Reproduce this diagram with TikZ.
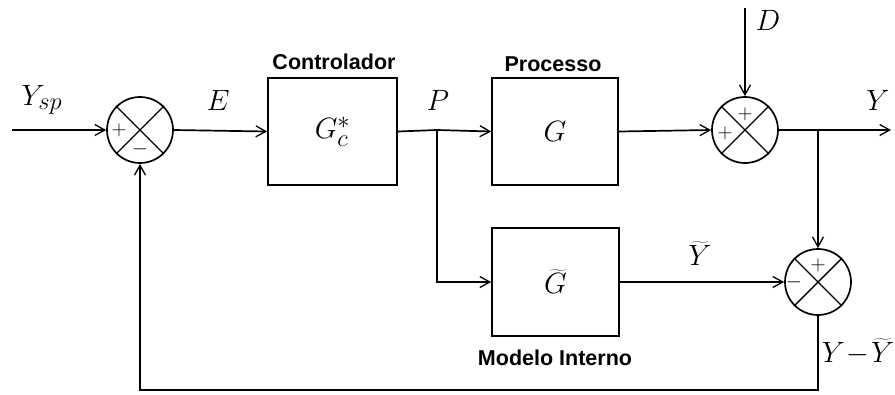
\documentclass[tikz,border=0pt]{standalone}
\usepackage{fontspec}
\newfontfamily\lblfont{Liberation Sans}
\usetikzlibrary{arrows.meta}
\newcommand{\mlab}[1]{\scalebox{1.18}{$#1$}}
\begin{document}
\begin{tikzpicture}[x=1pt,y=-1pt,
  line width=1.7pt,
  arr/.style={-{Straight Barb[length=10pt,width=11pt,line width=1.3pt]}},
  blk/.style={draw, rectangle, inner sep=0pt, font=\fontsize{24.88}{28}\selectfont},
  sumc/.style={draw, circle, minimum size=66pt, inner sep=0pt},
  sgn/.style={inner sep=0pt, font=\fontsize{20.74}{24}\selectfont},
  mlbl/.style={inner sep=0pt, font=\fontsize{24.88}{28}\selectfont},
  tlbl/.style={inner sep=0pt, font=\lblfont\bfseries\fontsize{21.5}{24}\selectfont}
]
\useasboundingbox (0,0) rectangle (895,394);

% nodes
\coordinate (in) at (12,130);
\node[sumc] (s1) at (140,130) {};
\node[blk, minimum width=129pt, minimum height=107pt] (gc) at (332.5,131.5) {\mlab{G_c^*}};
\coordinate (p) at (437,130);
\node[blk, minimum width=126pt, minimum height=107pt] (g) at (555,131.5) {\mlab{G}};
\node[sumc] (s2) at (745,130) {};
\coordinate (d) at (745,8);
\coordinate (yj) at (818,130);
\coordinate (yout) at (891,130);
\node[sumc] (s3) at (818,282) {};
\node[blk, minimum width=127pt, minimum height=108pt] (gt) at (555.5,282) {\mlab{\widetilde{G}}};
\coordinate (pd) at (437,282);
\coordinate (fb1) at (818,390);
\coordinate (fb2) at (140,390);

% crosses in summing junctions
\foreach \s in {s1,s2,s3}{
  \draw[line width=1.4pt] (\s.north east) -- (\s.south west);
  \draw[line width=1.4pt] (\s.north west) -- (\s.south east);
}

% signs
\node[sgn] (s1a) at ([xshift=-21pt]s1.center) {$+$};
\node[sgn] (s1b) at ([yshift=-19pt]s1.center) {$-$};
\node[sgn] (s2a) at ([yshift=16pt]s2.center) {$+$};
\node[sgn] (s2b) at ([xshift=-20pt,yshift=-3pt]s2.center) {$+$};
\node[sgn] (s3a) at ([yshift=17pt]s3.center) {$+$};
\node[sgn] (s3b) at ([xshift=-24pt]s3.center) {$-$};

% labels
\node[mlbl] (lysp) at (42,100) {\mlab{Y_{sp}}};
\node[mlbl] (le) at (218,100) {\mlab{E}};
\node[mlbl] (lp) at (438,100) {\mlab{P}};
\node[mlbl] (ld) at (768,20) {\mlab{D}};
\node[mlbl] (ly) at (878,100) {\mlab{Y}};
\node[mlbl] (lyt) at (700,254) {\mlab{\widetilde{Y}}};
\node[mlbl] (lyd) at (858,352) {\mlab{Y\!-\!\widetilde{Y}}};
\node[tlbl] (tc) at (334,62) {Controlador};
\node[tlbl] (tp) at (553,64) {Processo};
\node[tlbl] (tm) at (555,358) {Modelo Interno};

% connectors
\draw[arr] (in) -- (s1.west);
\draw[arr] (s1.east) -- (gc.west);
\draw (gc.east) -- (p);
\draw[arr] (p) -- (g.west);
\draw[arr] (p) -- (pd) -- (gt.west);
\draw[arr] (g.east) -- (s2.west);
\draw[arr] (d) -- (s2.north);
\draw (s2.east) -- (yj);
\draw[arr] (yj) -- (yout);
\draw[arr] (yj) -- (s3.north);
\draw[arr] (gt.east) -- (s3.west);
\draw[arr] (s3.south) -- (fb1) -- (fb2) -- (s1.south);
\end{tikzpicture}
\end{document}
